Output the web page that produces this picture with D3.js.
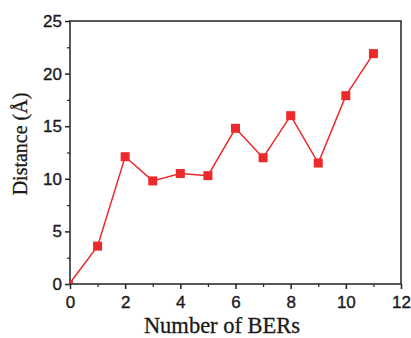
<!DOCTYPE html>
<html>
<head>
<meta charset="utf-8">
<script src="https://cdn.jsdelivr.net/npm/d3@7"></script>
<style>
  body { margin: 0; background: #fff; }
  .tick text { font-family: "Liberation Sans", Arial, sans-serif; font-size: 17px; fill: #1a1a1a; stroke: #1a1a1a; stroke-width: 0.35px; }
  .axis-title { font-family: "Liberation Serif", "Times New Roman", serif; fill: #1a1a1a; stroke: #1a1a1a; stroke-width: 0.3px; }
</style>
</head>
<body>
<div id="chart"></div>
<script>
const bers = [0, 1, 2, 3, 4, 5, 6, 7, 8, 9, 10, 11];
const distance = [0.1, 3.6, 12.1, 9.8, 10.5, 10.3, 14.8, 12.0, 16.0, 11.5, 17.9, 21.9];
const xTicks = [0, 2, 4, 6, 8, 10, 12];
const yTicks = [0, 5, 10, 15, 20, 25];

const width = 411, height = 338;
const margin = { top: 21, right: 10, bottom: 54, left: 70 };

const svg = d3.select('#chart')
  .append('svg')
  .attr('width', width)
  .attr('height', height);

const x = d3.scaleLinear().domain([0, 12]).range([margin.left, width - margin.right]);
const y = d3.scaleLinear().domain([0, 25]).range([height - margin.bottom, margin.top]);

// frame
svg.append('rect')
  .attr('x', x(0))
  .attr('y', y(25))
  .attr('width', x(12) - x(0))
  .attr('height', y(0) - y(25))
  .attr('fill', 'none')
  .attr('stroke', '#222')
  .attr('stroke-width', 1.5);

// minor ticks
svg.append('g')
  .attr('transform', `translate(0,${y(0)})`)
  .call(d3.axisBottom(x).tickValues(d3.range(1, 12, 2)).tickSize(3).tickFormat(''))
  .call(g => g.select('.domain').remove())
  .selectAll('line').attr('stroke', '#222').attr('stroke-width', 1.2);

svg.append('g')
  .attr('transform', `translate(${x(0)},0)`)
  .call(d3.axisLeft(y).tickValues([2.5, 7.5, 12.5, 17.5, 22.5]).tickSize(3).tickFormat(''))
  .call(g => g.select('.domain').remove())
  .selectAll('line').attr('stroke', '#222').attr('stroke-width', 1.2);

// major axes
const xAxis = svg.append('g')
  .attr('transform', `translate(0,${y(0)})`)
  .call(d3.axisBottom(x).tickValues(xTicks).tickSize(5).tickPadding(7))
  .call(g => g.select('.domain').remove());
xAxis.selectAll('line').attr('stroke', '#222').attr('stroke-width', 1.5);

const yAxis = svg.append('g')
  .attr('transform', `translate(${x(0)},0)`)
  .call(d3.axisLeft(y).tickValues(yTicks).tickSize(5).tickPadding(3))
  .call(g => g.select('.domain').remove());
yAxis.selectAll('line').attr('stroke', '#222').attr('stroke-width', 1.5);

// axis titles
svg.append('text')
  .attr('class', 'axis-title')
  .attr('x', 222)
  .attr('y', 333)
  .attr('text-anchor', 'middle')
  .attr('font-size', 22.5)
  .text('Number of BERs');

svg.append('text')
  .attr('class', 'axis-title')
  .attr('transform', 'translate(27,144) rotate(-90)')
  .attr('text-anchor', 'middle')
  .attr('font-size', 20)
  .text('Distance (Å)');

// line
const line = d3.line()
  .x((d, i) => x(bers[i]))
  .y(d => y(d));

svg.append('path')
  .datum(distance)
  .attr('fill', 'none')
  .attr('stroke', '#ec2a2c')
  .attr('stroke-width', 1.5)
  .attr('d', line);

const s = 9;
svg.selectAll('rect.pt')
  .data(distance.slice(1))
  .enter()
  .append('rect')
  .attr('class', 'pt')
  .attr('x', (d, i) => x(bers[i + 1]) - s / 2)
  .attr('y', d => y(d) - s / 2)
  .attr('width', s)
  .attr('height', s)
  .attr('fill', '#ec2a2c');

// first point is clipped by the axes
svg.append('rect')
  .attr('x', x(bers[0]))
  .attr('y', y(distance[0]) - 2)
  .attr('width', 3)
  .attr('height', 2)
  .attr('fill', '#ec2a2c');
</script>
</body>
</html>
